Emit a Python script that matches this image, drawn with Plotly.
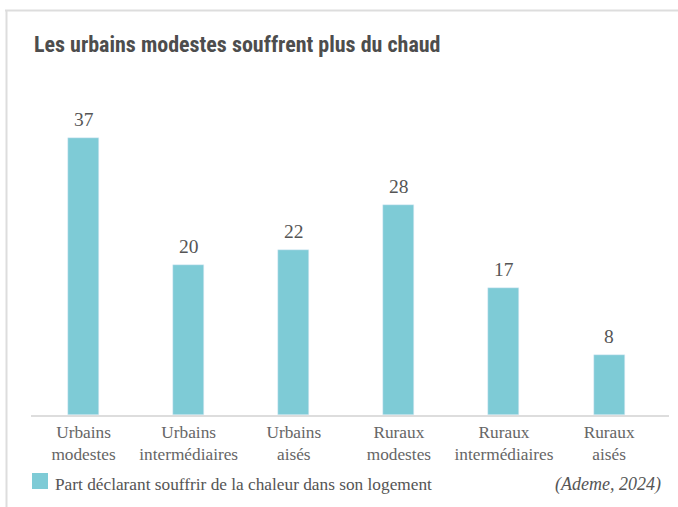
import plotly.graph_objects as go

categories = ["Urbains<br>modestes", "Urbains<br>intermédiaires", "Urbains<br>aisés",
              "Ruraux<br>modestes", "Ruraux<br>intermédiaires", "Ruraux<br>aisés"]
values = [37, 20, 22, 28, 17, 8]
series_name = "Part déclarant souffrir de la chaleur dans son logement"
title = "Les urbains modestes souffrent plus du chaud"
source = "(Ademe, 2024)"

BAR = "#7ecbd6"
SERIF = "Liberation Serif, Georgia, serif"

W, H = 678, 507
ml, mr, mt, mb = 31, 9, 115, 92

fig = go.Figure()
fig.add_trace(go.Bar(
    x=list(range(len(categories))), y=values, marker_color=BAR, width=0.295,
    name=series_name, showlegend=False, hoverinfo="y",
))

for i, v in enumerate(values):
    fig.add_annotation(x=i, y=v, text=str(v), showarrow=False, yanchor="bottom",
                       yshift=6, font=dict(family=SERIF, size=19.5, color="#555555"))

fig.update_layout(
    width=W, height=H,
    margin=dict(l=ml, r=mr, t=mt, b=mb, pad=0),
    paper_bgcolor="white", plot_bgcolor="white",
    bargap=0,
    xaxis=dict(
        range=[-0.5, 5.57], tickmode="array", tickvals=list(range(len(categories))),
        ticktext=categories, showgrid=False, zeroline=False,
        showline=True, linecolor="#dddddd", linewidth=2,
        ticks="", tickfont=dict(family=SERIF, size=17.3, color="#666666"),
        fixedrange=True,
    ),
    yaxis=dict(range=[0, 40], visible=False, fixedrange=True),
    font=dict(family=SERIF),
    showlegend=False,
)


def px_x(px):
    return (px - ml) / (W - ml - mr)


def px_y(py):
    return (H - mb - py) / (H - mt - mb)


# frame lines (top and left)
fig.add_shape(type="line", xref="paper", yref="paper",
              x0=px_x(5), x1=px_x(680), y0=px_y(10.5), y1=px_y(10.5),
              line=dict(color="#dddddd", width=2))
fig.add_shape(type="line", xref="paper", yref="paper",
              x0=px_x(6.5), x1=px_x(6.5), y0=px_y(10), y1=px_y(510),
              line=dict(color="#dddddd", width=2))

# title
fig.add_annotation(xref="paper", yref="paper", x=px_x(32), y=px_y(44),
                   xanchor="left", yanchor="middle", showarrow=False,
                   text="<b>" + title + "</b>",
                   font=dict(family="Roboto Condensed, Roboto, sans-serif",
                             size=22, color="#4d4d4d"))

# legend (manual)
fig.add_shape(type="rect", xref="paper", yref="paper",
              x0=px_x(32), x1=px_x(48), y0=px_y(473), y1=px_y(489),
              fillcolor=BAR, line=dict(width=0))
fig.add_annotation(xref="paper", yref="paper", x=px_x(53), y=px_y(484),
                   xanchor="left", yanchor="middle", showarrow=False,
                   text=series_name, font=dict(family=SERIF, size=17.3, color="#555555"))
fig.add_annotation(xref="paper", yref="paper", x=px_x(663), y=px_y(484),
                   xanchor="right", yanchor="middle", showarrow=False,
                   text="<i>" + source + "</i>", font=dict(family=SERIF, size=18, color="#555555"))

fig.write_html("out.html", config={"displayModeBar": False},
               post_script="document.body.style.margin='0';")
